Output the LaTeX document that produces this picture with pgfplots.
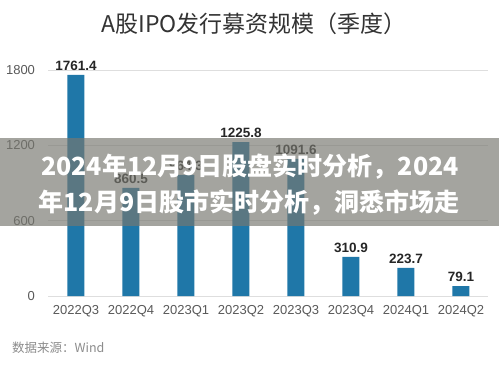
\documentclass[border=0pt]{standalone}
\usepackage{pgfplots}
\pgfplotsset{compat=1.18}
\usepackage{fontspec}
\setmainfont{Liberation Sans}
\newfontfamily\cjk{Noto Sans CJK SC}
\definecolor{barblue}{RGB}{31,119,168}
\definecolor{banner}{RGB}{120,120,112}
\begin{document}
\begin{tikzpicture}[x=1pt,y=1pt]
\fill[white] (0,0) rectangle (499,365);
\begin{axis}[
  at={(48.5pt,69pt)}, anchor=south west, scale only axis,
  width=440pt, height=226pt,
  xmin=-0.5, xmax=7.5, ymin=0, ymax=1800,
  ytick={0,600,1200,1800},
  xtick={0,...,7},
  xticklabels={2022Q3,2022Q4,2023Q1,2023Q2,2023Q3,2023Q4,2024Q1,2024Q2},
  axis line style={draw=none},
  ymajorgrids, grid style={draw=black!13, line width=0.9pt},
  major tick length=0pt,
  tick label style={font=\fontsize{13}{15}\selectfont, text=black!65},
  xticklabel style={yshift=-6pt},
  yticklabel style={xshift=-10pt},
  /pgf/number format/assume math mode=true,
  /pgf/number format/1000 sep={},
  ybar, bar width=17pt,
  nodes near coords={\pgfmathprintnumber[fixed,precision=1,fixed zerofill,1000 sep={},assume math mode=true]{\pgfplotspointmeta}},
  every node near coord/.append style={font=\bfseries\fontsize{13.5}{15}\selectfont, text=black!85, yshift=1pt},
  clip=false]
\addplot[fill=barblue, draw=none] coordinates {
  (0,1761.4) (1,860.5) (2,964.3) (3,1225.8) (4,1091.6) (5,310.9) (6,223.7) (7,79.1)};
\end{axis}
\fill[banner, fill opacity=0.67] (0,139) rectangle (499,227);
\node[text=white, font=\cjk\bfseries\fontsize{25}{30}\selectfont, inner sep=0pt] at (250,198) {2024年12月9日股盘实时分析，2024};
\node[text=white, font=\cjk\bfseries\fontsize{25}{30}\selectfont, inner sep=0pt] at (249,162) {年12月9日股市实时分析，洞悉市场走};
\node[font=\cjk\fontsize{23}{26}\selectfont, text=black!80, inner sep=0pt] at (254,341) {A股IPO发行募资规模（季度）};
\node[anchor=west, font=\cjk\fontsize{12.5}{14}\selectfont, text=black!45, inner sep=0pt] at (12,17) {数据来源：Wind};
\pgfresetboundingbox
\useasboundingbox (0,0) rectangle (499,365);
\end{tikzpicture}
\end{document}
